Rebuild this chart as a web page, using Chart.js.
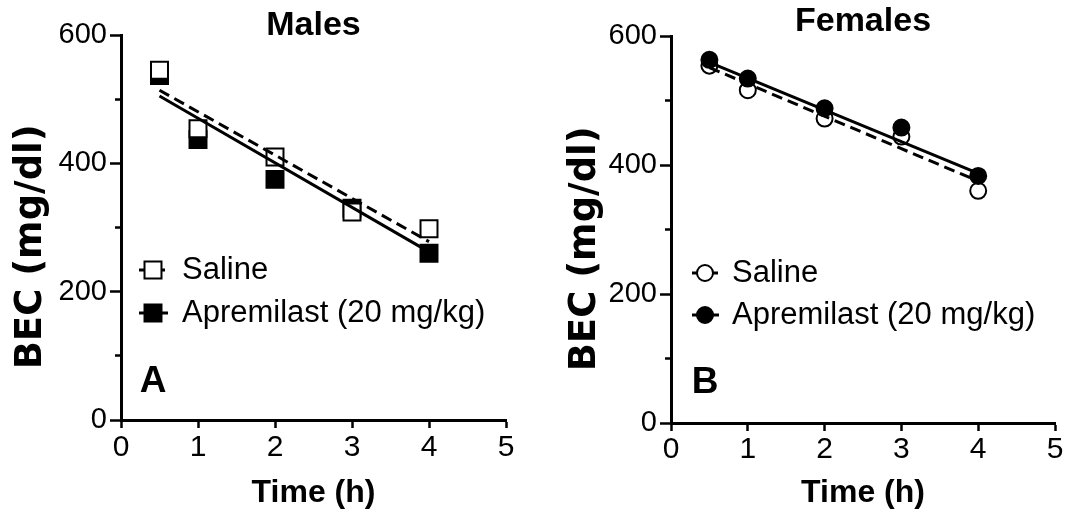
<!DOCTYPE html>
<html><head><meta charset="utf-8">
<script src="https://cdn.jsdelivr.net/npm/chart.js@4.4.1/dist/chart.umd.min.js"></script>
<style>
html,body{margin:0;padding:0;background:#fff;}
#wrap{position:relative;width:1074px;height:519px;overflow:hidden;background:#fff;}
canvas{position:absolute;top:0;}
</style></head><body>
<div id="wrap">
<canvas id="males" width="537" height="519" style="left:0;width:537px;height:519px"></canvas>
<canvas id="females" width="537" height="519" style="left:537px;width:537px;height:519px"></canvas>
</div>
<script>
// ---- data ----
const times = [0.5, 1, 2, 3, 4];
const fitTimes = [0.5, 4];
const xTickValues = [0, 1, 2, 3, 4, 5];
const yTickValues = [0, 200, 400, 600];
const maleSaline = [545, 454, 410, 324, 298];
const maleApremilast = [537, 437, 375, 330, 260];
const femaleSaline = [554, 516, 472, 444, 360];
const femaleApremilast = [563, 534, 488, 458, 383];
const maleSalineFit = [514, 278];
const maleApremilastFit = [505, 262];
const femaleSalineFit = [551, 375];
const femaleApremilastFit = [559, 387];
const seriesLabels = ['Saline', 'Apremilast (20 mg/kg)'];
const panelTitles = ['Males', 'Females'];
const panelLetters = ['A', 'B'];
const xTitle = 'Time (h)';
const yTitle = 'BEC (mg/dl)';

const FONT = "'Liberation Sans', Arial, sans-serif";
Chart.defaults.color = '#000';
Chart.defaults.font.family = FONT;

const panelDecor = {
  id: 'panelDecor',
  afterDatasetsDraw(chart, args, o) {
    const ctx = chart.ctx;
    ctx.save();
    o.entries.forEach((e, i) => {
      const y = o.legendY + i * o.rowGap;
      ctx.beginPath();
      ctx.lineWidth = 3;
      ctx.strokeStyle = '#000';
      ctx.setLineDash(e.dash);
      ctx.moveTo(o.lineX0, y);
      ctx.lineTo(o.lineX1, y);
      ctx.stroke();
      ctx.setLineDash([]);
      ctx.fillStyle = e.fill;
      ctx.strokeStyle = '#000';
      ctx.lineWidth = 2;
      Chart.helpers.drawPoint(ctx, {pointStyle: e.pointStyle, radius: e.radius, borderWidth: 2, rotation: 0}, o.markerX, y);
      ctx.fillStyle = '#000';
      ctx.font = '31px ' + FONT;
      ctx.textBaseline = 'middle';
      ctx.textAlign = 'left';
      ctx.fillText(e.label, o.textX, y);
    });
    ctx.font = 'bold 37px ' + FONT;
    ctx.textAlign = 'center';
    ctx.textBaseline = 'middle';
    ctx.fillStyle = '#000';
    ctx.fillText(o.letter, o.letterX, o.letterY);
    ctx.restore();
  }
};

function pts(arrX, arrY) { return arrX.map((t, i) => ({x: t, y: arrY[i]})); }

function makeChart(id, P) {
  const datasets = [
    { label: seriesLabels[0] + ' fit', data: pts(fitTimes, P.salineFit), showLine: true, borderColor: '#000', borderWidth: 3, borderDash: [11, 6], pointRadius: 0, pointHoverRadius: 0, order: 0 },
    { label: seriesLabels[1] + ' fit', data: pts(fitTimes, P.apreFit), showLine: true, borderColor: '#000', borderWidth: 3, pointRadius: 0, pointHoverRadius: 0, order: 0 },
    { label: seriesLabels[0], data: pts(times, P.saline), showLine: false, pointStyle: P.style, pointRadius: P.radius, pointHoverRadius: P.radius, pointBackgroundColor: '#fff', pointBorderColor: '#000', pointBorderWidth: 2, order: P.salineOrder },
    { label: seriesLabels[1], data: pts(times, P.apre), showLine: false, pointStyle: P.style, pointRadius: P.radius, pointHoverRadius: P.radius, pointBackgroundColor: '#000', pointBorderColor: '#000', pointBorderWidth: 2, order: P.apreOrder }
  ];
  const L = P.layout;
  return new Chart(document.getElementById(id), {
    type: 'scatter',
    data: { datasets },
    plugins: [panelDecor],
    options: {
      responsive: false,
      animation: false,
      events: [],
      layout: { padding: { left: 0, right: L.padR, top: 0, bottom: 0 } },
      scales: {
        x: {
          type: 'linear', min: 0, max: 5,
          afterFit: s => { s.height = L.xH; },
          afterBuildTicks: s => { s.ticks = xTickValues.map(v => ({value: v})); },
          ticks: { font: { family: FONT, size: 30 }, color: '#000', padding: L.xPad, maxRotation: 0, autoSkip: false },
          grid: { drawOnChartArea: false, tickLength: 8, tickWidth: 2.5, tickColor: '#000' },
          border: { color: '#000', width: 3 },
          title: { display: true, text: xTitle, color: '#000', font: { family: FONT, size: 32, weight: 'bold' }, padding: { top: 0, bottom: 7 } }
        },
        y: {
          type: 'linear', min: 0, max: 600,
          afterFit: s => { s.width = L.yW; },
          ticks: { stepSize: 100, autoSkip: false, font: { family: FONT, size: 29 }, color: '#000', padding: 3,
                   callback: v => yTickValues.includes(v) ? String(v) : '' },
          grid: { drawOnChartArea: false, tickLength: 11, tickWidth: 2.5, tickColor: '#000',
                  tickBorderDash: c => (c.tick && yTickValues.includes(c.tick.value)) ? [] : [0, 5, 6, 100] },
          border: { color: '#000', width: 3 },
          title: { display: true, text: yTitle + '   ', color: '#000', font: { family: "'DejaVu Sans', sans-serif", size: 37, weight: 'bold', lineHeight: 1 }, padding: { top: L.yTitlePad, bottom: 0 } }
        }
      },
      plugins: {
        legend: { display: false },
        tooltip: { enabled: false },
        title: { display: true, fullSize: false, text: P.title, color: '#000', font: { family: FONT, size: 34, weight: 'bold', lineHeight: 1 }, padding: { top: L.tTop, bottom: L.tBot } },
        panelDecor: {
          entries: [
            { label: seriesLabels[0], dash: [10, 6], fill: '#fff', pointStyle: P.style, radius: P.radius },
            { label: seriesLabels[1], dash: [], fill: '#000', pointStyle: P.style, radius: P.radius }
          ],
          legendY: L.legY, rowGap: L.rowGap, lineX0: L.lineX0, lineX1: L.lineX1, markerX: L.markerX, textX: L.textX,
          letter: P.letter, letterX: L.letterX, letterY: L.letterY
        }
      }
    }
  });
}

makeChart('males', {
  title: panelTitles[0], letter: panelLetters[0],
  saline: maleSaline, apre: maleApremilast, salineFit: maleSalineFit, apreFit: maleApremilastFit,
  style: 'rect', radius: 12, salineOrder: 1, apreOrder: 2,
  layout: { padR: 31, xH: 99, yW: 121, xPad: 2, yTitlePad: 13, tTop: 9, tBot: -8,
            legY: 270, rowGap: 43, lineX0: 139, lineX1: 168, markerX: 153, textX: 182, letterX: 153, letterY: 382 }
});
makeChart('females', {
  title: panelTitles[1], letter: panelLetters[1],
  saline: femaleSaline, apre: femaleApremilast, salineFit: femaleSalineFit, apreFit: femaleApremilastFit,
  style: 'circle', radius: 8, salineOrder: 2, apreOrder: 1,
  layout: { padR: 19, xH: 96, yW: 134, xPad: 1, yTitlePad: 30, tTop: 5, tBot: -3,
            legY: 273, rowGap: 42, lineX0: 155, lineX1: 182, markerX: 168, textX: 195, letterX: 168, letterY: 383 }
});
</script>
</body></html>
